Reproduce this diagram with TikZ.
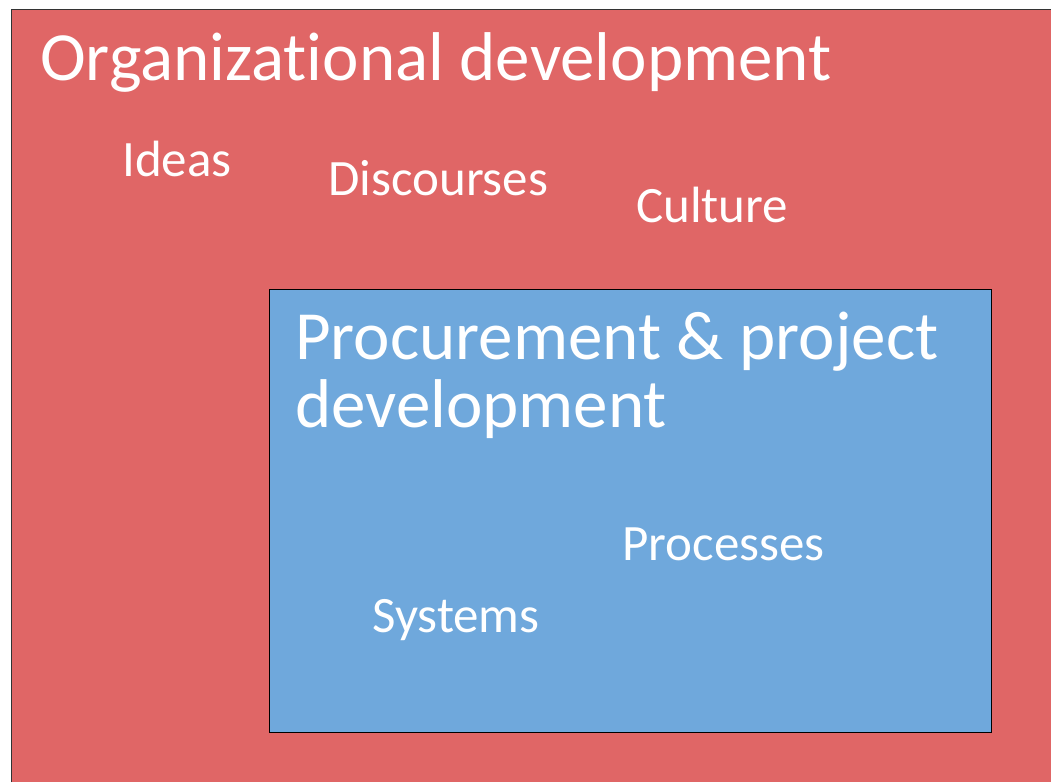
\documentclass[tikz,border=0pt]{standalone}
\usepackage{fontspec}
\setmainfont[Ligatures={NoCommon,NoRare}]{Carlito}
\definecolor{orgred}{RGB}{224,102,102}
\definecolor{procblue}{RGB}{111,168,220}
\tikzset{
  bigtext/.style={anchor=base west, inner sep=0pt, text=white, font=\fontsize{69}{69}\selectfont},
  smalltext/.style={anchor=base west, inner sep=0pt, text=white, font=\fontsize{51}{51}\selectfont}
}

\begin{document}
\begin{tikzpicture}[x=1pt,y=-1pt]
\useasboundingbox (0,0) rectangle (1051,782);

\coordinate (o) at (11,9);
\coordinate (b1) at (269,289);
\coordinate (b2) at (991,732);

\fill[orgred] (o) rectangle (1051,782);
\draw[black!80, line width=1pt] (o |- 0,782) -- (o) -- (1051,9);

\node[bigtext] (org) at (40,80) {Organizational development};
\node[smalltext] (ideas) at (122,176) {Ideas};
\node[smalltext] (disc) at (328,195) {Discourses};
\node[smalltext] (cult) at (636,222) {Culture};

\draw[black, fill=procblue, line width=1pt] (b1) rectangle (b2);

\node[bigtext] (proc) at (295,359) {Procurement \& project};
\node[bigtext] (dev) at (295,427) {development};
\node[smalltext] (procs) at (622,560) {Processes};
\node[smalltext] (sys) at (372,632) {Systems};

\end{tikzpicture}
\end{document}
